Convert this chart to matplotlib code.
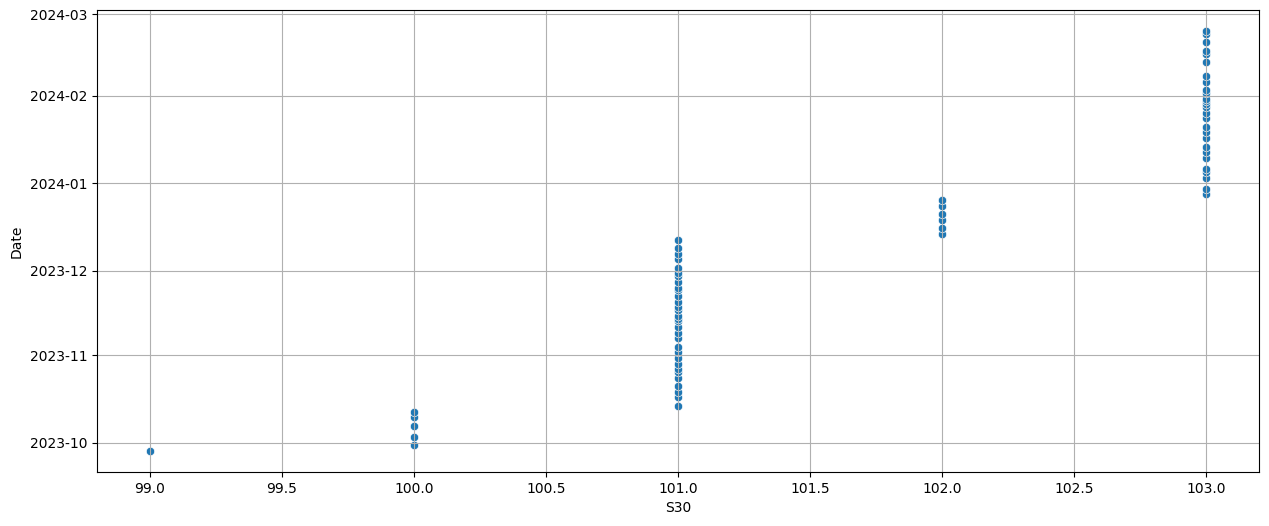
import pandas as pd
import matplotlib
matplotlib.use("Agg")
import matplotlib.pyplot as plt
import seaborn as sns

# dates, grouped by S30 value
dates_99 = ["2023-09-28"]
dates_100 = ["2023-09-30", "2023-10-03", "2023-10-07", "2023-10-10", "2023-10-12"]
dates_101 = ["2023-10-14", "2023-10-17", "2023-10-19", "2023-10-21", "2023-10-24",
             "2023-10-26", "2023-10-27", "2023-10-29", "2023-10-31", "2023-11-02",
             "2023-11-04", "2023-11-07", "2023-11-09", "2023-11-11", "2023-11-13",
             "2023-11-14", "2023-11-15", "2023-11-17", "2023-11-18", "2023-11-20",
             "2023-11-22", "2023-11-24", "2023-11-25", "2023-11-27", "2023-11-29",
             "2023-11-30", "2023-12-02", "2023-12-05", "2023-12-07", "2023-12-09",
             "2023-12-12"]
dates_102 = ["2023-12-14", "2023-12-16", "2023-12-19", "2023-12-21", "2023-12-24",
             "2023-12-26"]
dates_103 = ["2023-12-28", "2023-12-30", "2024-01-03", "2024-01-05", "2024-01-06",
             "2024-01-10", "2024-01-12", "2024-01-14", "2024-01-17", "2024-01-19",
             "2024-01-21", "2024-01-24", "2024-01-26", "2024-01-28", "2024-01-29",
             "2024-01-30", "2024-01-31", "2024-02-02", "2024-02-03", "2024-02-06",
             "2024-02-08", "2024-02-13", "2024-02-16", "2024-02-17", "2024-02-20",
             "2024-02-23", "2024-02-24"]

groups = {99: dates_99, 100: dates_100, 101: dates_101, 102: dates_102, 103: dates_103}
rows = []
for s, ds in groups.items():
    for d in ds:
        rows.append((s, d))
df = pd.DataFrame(rows, columns=["S30", "Date"])
df["Date"] = pd.to_datetime(df["Date"])

W, H = 1269, 526
fig = plt.figure(figsize=(W / 100, H / 100), dpi=100)
ax = fig.add_axes([97 / W, (H - 472) / H, 1162 / W, 462 / H])

sns.scatterplot(data=df, x="S30", y="Date", ax=ax)
ax.grid(True)

fig.savefig("out.png", dpi=100)
